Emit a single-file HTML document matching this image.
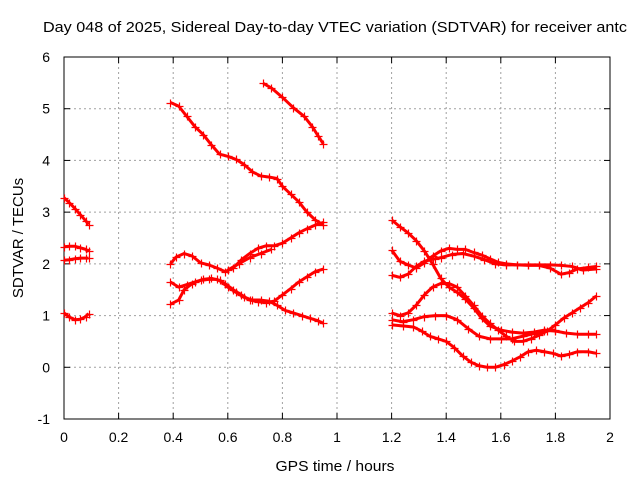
<!DOCTYPE html>
<html><head><meta charset="utf-8"><style>
body{margin:0;background:#fff;}
svg{display:block;font-family:"Liberation Sans",sans-serif;}
</style></head><body>
<svg id="chart" width="640" height="480" viewBox="0 0 640 480">
<rect width="640" height="480" fill="#fff"/>
<text x="43" y="32" font-size="14.5" fill="#000" textLength="584" lengthAdjust="spacingAndGlyphs">Day 048 of 2025, Sidereal Day-to-day VTEC variation (SDTVAR) for receiver antc</text>
<g id="grid"></g><g id="axes"></g><g id="marks"></g>
<text x="335" y="471" font-size="15" text-anchor="middle" textLength="119" lengthAdjust="spacingAndGlyphs">GPS time / hours</text>
<text transform="translate(23,238) rotate(-90)" font-size="15" text-anchor="middle">SDTVAR / TECUs</text>
</svg>
<script>
const xTicks=[0,0.2,0.4,0.6,0.8,1,1.2,1.4,1.6,1.8,2];
const xTickLabels=["0","0.2","0.4","0.6","0.8","1","1.2","1.4","1.6","1.8","2"];
const yTicks=[-1,0,1,2,3,4,5,6];
const yTickLabels=["-1","0","1","2","3","4","5","6"];
const sA_x=[0,0.02,0.04,0.06,0.08,0.09];
const sA_y=[3.28,3.18,3.07,2.95,2.83,2.76];
const sB_y=[2.33,2.34,2.34,2.31,2.28,2.24];
const sC_y=[2.07,2.08,2.1,2.11,2.11,2.11];
const sD_y=[1.05,0.97,0.92,0.93,0.98,1.04];
const sE_x=[0.73,0.76,0.8,0.84,0.88,0.91,0.93,0.95];
const sE_y=[5.49,5.4,5.22,5.02,4.85,4.65,4.48,4.32];
const sF_x=[0.39,0.42,0.45,0.48,0.51,0.54,0.57,0.6,0.63,0.66,0.69,0.72,0.75,0.78,0.8,0.83,0.86,0.89,0.92,0.95];
const sF_y=[5.12,5.05,4.85,4.65,4.5,4.3,4.12,4.08,4.02,3.92,3.78,3.7,3.68,3.65,3.5,3.35,3.2,3.0,2.85,2.75];
const sG_x=[0.39,0.41,0.44,0.47,0.5,0.53,0.56,0.59,0.62,0.65,0.68,0.71,0.74,0.77,0.8,0.83,0.86,0.89,0.92,0.95];
const sG_y=[2.0,2.13,2.2,2.15,2.02,1.98,1.92,1.85,1.92,2.08,2.2,2.3,2.35,2.35,2.4,2.5,2.6,2.68,2.75,2.8];
const sG2_x=[0.6,0.64,0.68,0.72,0.76];
const sG2_y=[1.88,2.0,2.12,2.2,2.28];
const sH_x=[0.39,0.42,0.44,0.47,0.5,0.53,0.56,0.59,0.62,0.65,0.68,0.71,0.74,0.77,0.8,0.83,0.86,0.89,0.92,0.95];
const sH_y=[1.22,1.3,1.5,1.62,1.68,1.7,1.7,1.62,1.5,1.4,1.3,1.27,1.25,1.28,1.4,1.52,1.65,1.75,1.85,1.9];
const sI_x=[0.39,0.42,0.45,0.48,0.51,0.54,0.57,0.6,0.63,0.66,0.69,0.72,0.75,0.78,0.81,0.84,0.87,0.9,0.93,0.95];
const sI_y=[1.65,1.55,1.6,1.65,1.7,1.72,1.68,1.55,1.45,1.35,1.3,1.3,1.28,1.2,1.1,1.05,1.0,0.95,0.9,0.85];
const sJ_x=[1.2,1.23,1.26,1.29,1.32,1.35,1.38,1.41,1.44,1.47,1.5,1.53,1.56,1.6,1.64,1.68,1.72,1.76,1.8,1.84,1.88,1.92,1.95];
const sJ_y=[2.85,2.72,2.6,2.45,2.25,2.0,1.72,1.55,1.45,1.32,1.15,0.95,0.8,0.72,0.68,0.66,0.68,0.72,0.7,0.66,0.64,0.64,0.64];
const sK_x=[1.2,1.23,1.26,1.29,1.32,1.35,1.38,1.41,1.44,1.47,1.5,1.53,1.56,1.59,1.62,1.66,1.7,1.74,1.78,1.82,1.85,1.88,1.92,1.95];
const sK_y=[2.27,2.05,1.98,1.92,2.02,2.15,2.25,2.3,2.28,2.28,2.22,2.17,2.1,2.03,2.0,1.98,1.97,1.97,1.92,1.8,1.83,1.9,1.93,1.95];
const sL_x=[1.2,1.23,1.26,1.29,1.32,1.36,1.38,1.42,1.46,1.5,1.54,1.58,1.62,1.66,1.7,1.74,1.78,1.82,1.86,1.9,1.95];
const sL_y=[1.78,1.74,1.8,1.95,2.05,2.1,2.12,2.18,2.2,2.15,2.08,2.0,1.98,1.98,1.98,1.98,1.98,1.97,1.95,1.88,1.9];
const sM_x=[1.2,1.23,1.26,1.29,1.32,1.35,1.38,1.41,1.44,1.47,1.5,1.53,1.56,1.59,1.62,1.65,1.68,1.71,1.74,1.77,1.8,1.83,1.86,1.89,1.92,1.95];
const sM_y=[1.05,1.0,1.05,1.2,1.4,1.55,1.62,1.62,1.55,1.38,1.2,1.0,0.85,0.72,0.6,0.5,0.5,0.55,0.62,0.7,0.82,0.95,1.05,1.15,1.25,1.38];
const sN_x=[1.2,1.24,1.28,1.32,1.36,1.4,1.44,1.48,1.52,1.56,1.6,1.64,1.68,1.72,1.76,1.8];
const sN_y=[0.92,0.88,0.92,0.98,1.0,1.0,0.92,0.75,0.6,0.55,0.55,0.55,0.6,0.65,0.7,0.72];
const sO_x=[1.2,1.24,1.28,1.31,1.34,1.37,1.4,1.43,1.46,1.49,1.52,1.55,1.58,1.61,1.64,1.67,1.7,1.73,1.76,1.79,1.82,1.85,1.88,1.92,1.95];
const sO_y=[0.82,0.8,0.78,0.7,0.6,0.55,0.5,0.38,0.22,0.1,0.03,0.0,0.0,0.05,0.12,0.2,0.3,0.33,0.3,0.27,0.22,0.25,0.3,0.3,0.27];
const series=[[sA_x,sA_y],[sA_x,sB_y],[sA_x,sC_y],[sA_x,sD_y],[sE_x,sE_y],[sF_x,sF_y],[sG_x,sG_y],[sG2_x,sG2_y],[sH_x,sH_y],[sI_x,sI_y],[sJ_x,sJ_y],[sK_x,sK_y],[sL_x,sL_y],[sM_x,sM_y],[sN_x,sN_y],[sO_x,sO_y]];

const L=64,R=610,T=57,B=419;
const X=v=>L+(v-0)/(2-0)*(R-L);
const Y=v=>B-(v-(-1))/(6-(-1))*(B-T);
const NS="http://www.w3.org/2000/svg";
function mk(tag,attrs,parent){const e=document.createElementNS(NS,tag);for(const k in attrs)e.setAttribute(k,attrs[k]);parent.appendChild(e);return e;}
const grid=document.getElementById('grid'),axes=document.getElementById('axes'),marks=document.getElementById('marks');
xTicks.forEach((t,i)=>{
  const x=X(t);
  if(i>0&&i<xTicks.length-1){const g=mk('line',{x1:x,x2:x,y1:T,y2:B,stroke:'#a0a0a0','stroke-dasharray':'2,3'},grid);
  
  }
  mk('line',{x1:x,x2:x,y1:B,y2:B-6,stroke:'#000'},axes);
  mk('line',{x1:x,x2:x,y1:T,y2:T+6,stroke:'#000'},axes);
  const tx=mk('text',{x:x,y:B+23,'font-size':14,'text-anchor':'middle'},axes);
  tx.textContent=xTickLabels[i];
  
  
});
yTicks.forEach((t,i)=>{
  const y=Y(t);
  if(i>0&&i<yTicks.length-1){const g=mk('line',{x1:L,x2:R,y1:y,y2:y,stroke:'#a0a0a0','stroke-dasharray':'2,3'},grid);
  
  }
  mk('line',{x1:L,x2:L+6,y1:y,y2:y,stroke:'#000'},axes);
  mk('line',{x1:R,x2:R-6,y1:y,y2:y,stroke:'#000'},axes);
  const tx=mk('text',{x:L-14,y:y+5,'font-size':14,'text-anchor':'end'},axes);
  tx.textContent=yTickLabels[i];
  
  
});
const fr=mk('rect',{x:L,y:T,width:R-L,height:B-T,fill:'none',stroke:'#000'},axes);


series.forEach((s,si)=>{
  const g=mk('g',{},marks);
  
  
  const pts=s[0].map((xv,i)=>[X(xv),Y(s[1][i])]);
  mk('polyline',{points:pts.map(p=>p.join(',')).join(' '),stroke:'#ff0000','stroke-width':3,fill:'none','stroke-linejoin':'round'},g);
  let d='';
  pts.forEach(p=>{const x=Math.round(p[0])+0.5,y=Math.round(p[1])+0.5;d+=`M${x-4},${y}h8M${x},${y-4}v8`;});
  mk('path',{d:d,stroke:'#ff0000','stroke-width':1.2,fill:'none'},g);
});
</script>
</body></html>
